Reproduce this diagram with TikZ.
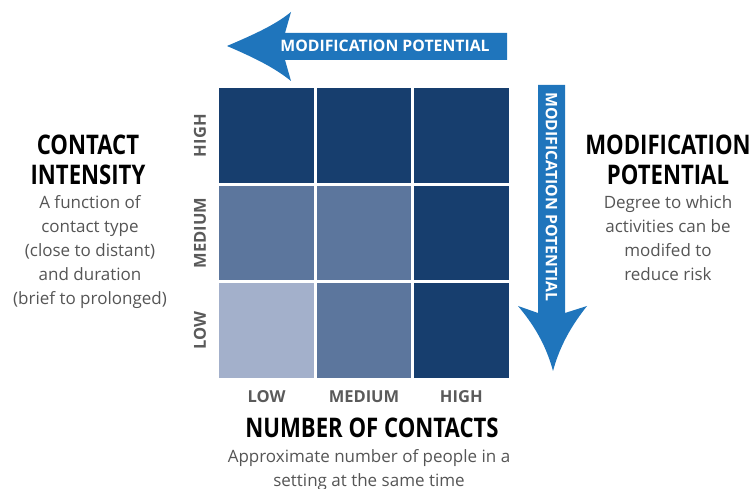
\documentclass[tikz,border=0pt]{standalone}
\usepackage{fontspec}
\setmainfont{Open Sans}
\newfontfamily\condfont[FakeStretch=0.82]{Open Sans}

\definecolor{navy}{RGB}{23,62,110}
\definecolor{midblue}{RGB}{92,118,157}
\definecolor{paleblue}{RGB}{163,176,203}
\definecolor{arrowblue}{RGB}{31,117,188}
\definecolor{labelgrey}{RGB}{90,90,90}
\definecolor{subgrey}{RGB}{85,85,85}

\tikzset{
  cell/.style={minimum width=94.8pt, minimum height=94.8pt, inner sep=0pt},
  axislabel/.style={text=labelgrey, font=\bfseries\fontsize{16.5}{20}\selectfont, inner sep=0pt},
  headline/.style={font=\condfont\bfseries\fontsize{27}{30}\selectfont, align=center, inner sep=0pt, anchor=north},
  subline/.style={text=subgrey, font=\fontsize{17}{24}\selectfont, align=center, inner sep=0pt, anchor=north},
  arrowtext/.style={text=white, font=\bfseries\fontsize{15.8}{18}\selectfont, inner sep=0pt}
}

\begin{document}
\begin{tikzpicture}[x=1pt, y=-1pt]
    \useasboundingbox (0,0) rectangle (756,489);

    % grid of cells
    \node[cell, fill=navy]      (hl) at (266.7,135.7) {};
    \node[cell, fill=navy]      (hm) at (364.0,135.7) {};
    \node[cell, fill=navy]      (hh) at (461.3,135.7) {};
    \node[cell, fill=midblue]   (ml) at (266.7,233.0) {};
    \node[cell, fill=midblue]   (mm) at (364.0,233.0) {};
    \node[cell, fill=navy]      (mh) at (461.3,233.0) {};
    \node[cell, fill=paleblue]  (ll) at (266.7,330.3) {};
    \node[cell, fill=midblue]   (lm) at (364.0,330.3) {};
    \node[cell, fill=navy]      (lh) at (461.3,330.3) {};

    % row and column labels
    \node[axislabel, rotate=90] (rowhigh) at (200,135.7) {HIGH};
    \node[axislabel, rotate=90] (rowmed)  at (200,233.0) {MEDIUM};
    \node[axislabel, rotate=90] (rowlow)  at (200,330.3) {LOW};
    \node[axislabel] (collow)  at (266.7,397) {LOW};
    \node[axislabel] (colmed)  at (364.0,397) {MEDIUM};
    \node[axislabel] (colhigh) at (461.3,397) {HIGH};

    % block arrows
    \fill[arrowblue] (227,46) .. controls (255,34) and (275,25) .. (291,12) -- (285,33) -- (507,33)
        -- (507,60) -- (285,60) -- (291,81) .. controls (275,68) and (255,58) .. (227,46) -- cycle;
    \node[arrowtext] (toparrow) at (385,46) {MODIFICATION POTENTIAL};
    \fill[arrowblue] (538,85) -- (565,85) -- (565,313) -- (587,306) .. controls (572,325) and (560,345) .. (553,371)
        .. controls (546,345) and (534,325) .. (518,306) -- (538,313) -- cycle;
    \node[arrowtext, rotate=-90] (sidearrow) at (551.5,197) {MODIFICATION POTENTIAL};

    % titles
    \node[headline] (intensity) at (88,135) {CONTACT\\INTENSITY};
    \node[subline]  (intensitytxt) at (90,195) {A function of\\contact type\\(close to distant)\\and duration\\(brief to prolonged)};
    \node[headline] (modpot) at (668,135) {MODIFICATION\\POTENTIAL};
    \node[subline]  (modpottxt) at (668,195) {Degree to which\\activities can be\\modifed to\\reduce risk};
    \node[headline] (numcontacts) at (372,418) {NUMBER OF CONTACTS};
    \node[subline]  (numcontactstxt) at (369,449) {Approximate number of people in a\\setting at the same time};
\end{tikzpicture}
\end{document}
